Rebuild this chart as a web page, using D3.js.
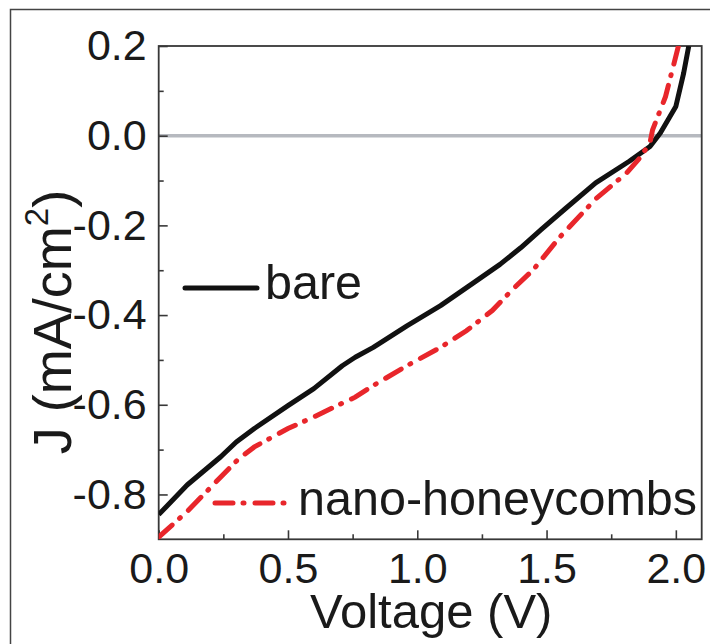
<!DOCTYPE html>
<html>
<head>
<meta charset="utf-8">
<script src="https://cdn.jsdelivr.net/npm/d3@7/dist/d3.min.js"></script>
<style>
  html, body { margin: 0; padding: 0; background: #fff; }
  svg { display: block; }
  text { font-family: "Liberation Sans", Arial, Helvetica, sans-serif; fill: #1a1a1a; }
</style>
</head>
<body>
<svg id="chart" width="710" height="644"></svg>
<script>
// ---- data ----
const seriesNames = ["bare", "nano-honeycombs"];
const bareV = [0, 0.11, 0.24, 0.30, 0.37, 0.50, 0.60, 0.71, 0.76, 0.83, 0.96, 1.09, 1.22, 1.32, 1.40, 1.48, 1.57, 1.69, 1.82, 1.90, 1.94, 2.00, 2.03, 2.05];
const bareJ = [-0.845, -0.779, -0.716, -0.683, -0.653, -0.602, -0.564, -0.513, -0.494, -0.472, -0.424, -0.379, -0.327, -0.287, -0.250, -0.209, -0.164, -0.105, -0.057, -0.024, 0.006, 0.065, 0.139, 0.200];
const nanoV = [0, 0.11, 0.24, 0.31, 0.37, 0.50, 0.60, 0.69, 0.76, 0.83, 0.96, 1.09, 1.19, 1.29, 1.37, 1.45, 1.55, 1.69, 1.81, 1.86, 1.90, 1.91, 1.96, 2.01];
const nanoJ = [-0.895, -0.838, -0.761, -0.720, -0.694, -0.653, -0.627, -0.602, -0.583, -0.557, -0.513, -0.472, -0.435, -0.390, -0.342, -0.298, -0.227, -0.141, -0.083, -0.050, -0.016, 0.013, 0.087, 0.200];
const xMajorTicks = [0.0, 0.5, 1.0, 1.5, 2.0];
const xMinorTicks = [0.25, 0.75, 1.25, 1.75];
const yMajorTicks = [0.2, 0.0, -0.2, -0.4, -0.6, -0.8];
const yMinorTicks = [0.1, -0.1, -0.3, -0.5, -0.7];
const xTitle = "Voltage (V)";

// ---- layout ----
const svg = d3.select("#chart");
const L = 158.7, R = 701.7, T = 46, B = 539.3;
const x = d3.scaleLinear().domain([0, 2.1]).range([L, R]);
const y = d3.scaleLinear().domain([-0.9, 0.2]).range([B, T]);
const axisColor = "#383838";
const red = "#e8262b";

// outer frame
svg.append("rect").attr("x", 10.5).attr("y", 9.5).attr("width", 740).attr("height", 700)
  .attr("fill", "none").attr("stroke", "#444").attr("stroke-width", 1.5);

// clip
svg.append("clipPath").attr("id", "clip").append("rect")
  .attr("x", L).attr("y", T).attr("width", R - L).attr("height", B - T);

// zero line
svg.append("line").attr("x1", L).attr("x2", R).attr("y1", y(0)).attr("y2", y(0))
  .attr("stroke", "#b6b9bf").attr("stroke-width", 3.5);

// axes
function fmt(d) { return d3.format(".1f")(d).replace("−", "-"); }
const gx = svg.append("g").attr("transform", `translate(0,${B})`)
  .call(d3.axisBottom(x).tickValues(xMajorTicks).tickSize(-9).tickPadding(13).tickFormat(fmt));
const gxm = svg.append("g").attr("transform", `translate(0,${B})`)
  .call(d3.axisBottom(x).tickValues(xMinorTicks).tickSize(-5).tickFormat(""));
const gy = svg.append("g").attr("transform", `translate(${L},0)`)
  .call(d3.axisLeft(y).tickValues(yMajorTicks).tickSize(-9).tickPadding(12).tickFormat(fmt));
const gym = svg.append("g").attr("transform", `translate(${L},0)`)
  .call(d3.axisLeft(y).tickValues(yMinorTicks).tickSize(-5).tickFormat(""));
[gx, gxm, gy, gym].forEach(g => {
  g.select(".domain").remove();
  g.selectAll(".tick line").attr("stroke", axisColor).attr("stroke-width", 1.6);
  g.selectAll(".tick text").style("font-size", "43px").attr("fill", "#1a1a1a")
    .style("font-family", '"Liberation Sans", Arial, sans-serif');
});

// plot box
svg.append("rect").attr("x", L).attr("y", T).attr("width", R - L).attr("height", B - T)
  .attr("fill", "none").attr("stroke", axisColor).attr("stroke-width", 1.8);

// curves
const line = d3.line().x(d => x(d[0])).y(d => y(d[1]));
const bare = bareV.map((v, i) => [v, bareJ[i]]);
const nano = nanoV.map((v, i) => [v, nanoJ[i]]);
const plot = svg.append("g").attr("clip-path", "url(#clip)");
plot.append("path").datum(bare).attr("d", line).attr("fill", "none")
  .attr("stroke", "#111").attr("stroke-width", 5).attr("stroke-linejoin", "round");
plot.append("path").datum(nano).attr("d", line).attr("fill", "none")
  .attr("stroke", red).attr("stroke-width", 5).attr("stroke-linecap", "round")
  .attr("stroke-dasharray", "18 10 1 11");

// legend
svg.append("line").attr("x1", 185).attr("x2", 257).attr("y1", 288).attr("y2", 288)
  .attr("stroke", "#111").attr("stroke-width", 5).attr("stroke-linecap", "round");
svg.append("text").attr("x", 265).attr("y", 299).text(seriesNames[0]).style("font-size", "48.5px");
svg.append("line").attr("x1", 215).attr("x2", 287).attr("y1", 503).attr("y2", 503)
  .attr("stroke", red).attr("stroke-width", 5).attr("stroke-linecap", "round")
  .attr("stroke-dasharray", "18 10 1 11");
svg.append("text").attr("x", 298).attr("y", 515).text(seriesNames[1]).style("font-size", "48.5px");

// axis titles
svg.append("text").attr("x", (L + R) / 2 + 1).attr("y", 628).attr("text-anchor", "middle")
  .style("font-size", "49px").text(xTitle);
const yt = svg.append("text").attr("transform", `translate(71,322) rotate(-90)`)
  .attr("text-anchor", "middle").style("font-size", "54px");
yt.append("tspan").text("J (mA/cm");
yt.append("tspan").attr("dy", -23).style("font-size", "33px").text("2");
yt.append("tspan").attr("dy", 23).text(")");
</script>
</body>
</html>
